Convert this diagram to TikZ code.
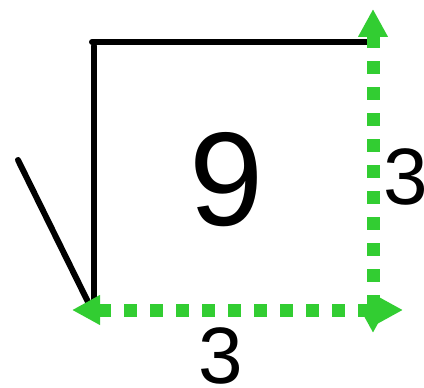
\documentclass[tikz,border=0pt]{standalone}
\usepackage{fontspec}
\setmainfont{Liberation Sans}
\usetikzlibrary{arrows.meta}
\definecolor{lime}{RGB}{50,205,50}
\definecolor{ink}{RGB}{0,0,0}
\tikzset{
  radical/.style={draw=ink,line width=4.5pt,line cap=round},
  side/.style={draw=lime,line width=9.75pt,dash pattern=on 9.75pt off 9.75pt,
    {Triangle[length=21pt,width=21pt]}-{Triangle[length=21pt,width=21pt]}},
  digit/.style={font=\fontsize{#1}{#1}\selectfont,inner sep=0pt},
  digit/.default=60pt,
}
\begin{document}
\begin{tikzpicture}[x=0.75pt,y=-0.75pt]
  \useasboundingbox (0,0) rectangle (424,388);
  % the root sign
  \draw[radical] (18,160) -- (89,304);
  \draw[radical] (94,304) -- (94,46);
  \draw[radical] (92,42) -- (370,42);
  % the two sides
  \coordinate (L) at (72,310);
  \coordinate (R) at (403,310);
  \coordinate (T) at (373,9);
  \coordinate (B) at (373,333);
  \draw[side] (L) -- (R);
  \draw[side] (T) -- (B);
  \node[digit=100pt] (nine) at (227,180) {9};
  \node[digit] (right) at (406,177) {3};
  \node[digit] (below) at (221,356) {3};
\end{tikzpicture}
\end{document}
